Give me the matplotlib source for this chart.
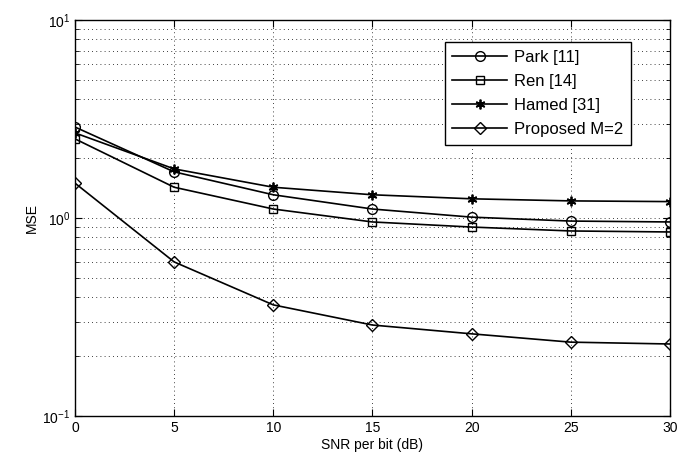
import numpy as np
import matplotlib
matplotlib.use("Agg")
import matplotlib.pyplot as plt

plt.rcParams['font.family'] = ['Liberation Sans', 'DejaVu Sans']
plt.rcParams['mathtext.fontset'] = 'custom'
plt.rcParams['mathtext.rm'] = 'Liberation Sans'

snr = [0, 5, 10, 15, 20, 25, 30]
park = [2.88, 1.71, 1.31, 1.11, 1.01, 0.965, 0.955]
ren = [2.51, 1.43, 1.11, 0.955, 0.90, 0.86, 0.85]
hamed = [2.69, 1.77, 1.43, 1.31, 1.25, 1.22, 1.21]
proposed = [1.50, 0.60, 0.364, 0.288, 0.26, 0.236, 0.231]

fig = plt.figure(figsize=(6.78, 4.62), dpi=100)
ax = fig.add_axes([0.1106, 0.0996, 0.8774, 0.8571])

ms = 7
ax.semilogy(snr, park, 'k-', marker='o', mfc='none', ms=ms, lw=1.2, label='Park [11]')
ax.semilogy(snr, ren, 'k-', marker='s', mfc='none', ms=ms - 1, lw=1.2, label='Ren [14]')
ax.semilogy(snr, hamed, 'k-', marker=(6, 2, 0), ms=ms, mew=1.3, lw=1.2, label='Hamed [31]')
ax.semilogy(snr, proposed, 'k-', marker='D', mfc='none', ms=ms - 1, lw=1.2, label='Proposed M=2')

ax.set_xlim(0, 30)
ax.set_ylim(0.1, 10)
ax.set_xticks(snr)
ax.grid(True, which='major', linestyle=(0, (1, 4)), color='k', lw=0.6)
ax.grid(True, which='minor', axis='y', linestyle=(0, (1, 4)), color='k', lw=0.6)
ax.tick_params(which='both', direction='in', top=True, right=True, labelsize=10)
ax.tick_params(which='major', length=5)
ax.tick_params(which='minor', length=3)
for s in ax.spines.values():
    s.set_linewidth(1.0)

ax.set_xlabel('SNR per bit (dB)', fontsize=10, labelpad=2)
ax.set_ylabel('MSE', fontsize=10, labelpad=2)

leg = ax.legend(loc='upper right', bbox_to_anchor=(0.934, 0.944), fontsize=12,
                fancybox=False, framealpha=1, edgecolor='k', handlelength=3.3,
                borderpad=0.45, labelspacing=0.55, handletextpad=0.4,
                borderaxespad=0)
leg.get_frame().set_linewidth(1.0)

fig.savefig('out.png', dpi=100)
